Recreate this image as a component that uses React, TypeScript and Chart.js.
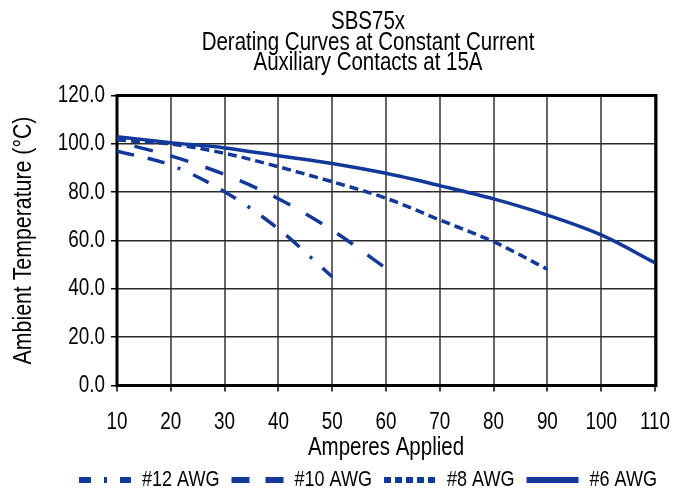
import React, { useEffect, useRef } from 'react';
import { Chart, registerables } from 'chart.js';

Chart.register(...registerables);

// ---- data ----
const amps12 = [10, 20, 30, 40, 50];
const temp12 = [97.0, 91.2, 80.2, 64.8, 45.0];
const amps10 = [10, 20, 30, 40, 50, 60];
const temp10 = [100.8, 95.0, 87.3, 77.3, 64.3, 48.5];
const amps8 = [10, 20, 30, 40, 50, 60, 70, 80, 90];
const temp8 = [101.6, 99.9, 96.1, 90.5, 84.3, 77.5, 68.5, 59.5, 48.1];
const amps6 = [10, 20, 30, 40, 50, 60, 70, 80, 90, 100, 110];
const temp6 = [102.9, 100.5, 98.3, 95.1, 91.9, 87.8, 82.7, 77.2, 70.5, 62.3, 50.8];

const seriesLabels = ['#12 AWG', '#10 AWG', '#8 AWG', '#6 AWG'];
const titleLines = ['SBS75x', 'Derating Curves at Constant Current', 'Auxiliary Contacts at 15A'];
const xTitle = 'Amperes Applied';
const yTitle = 'Ambient Temperature (\u00B0C)';

const FONT = "'Liberation Sans', Arial, sans-serif";
const SQUEEZE = 0.82; // condensed look of the original typeface
const BLUE = '#12399a';

const lineDashes = [[17.5, 14, 17.5, 14, 3, 14], [19, 18], [9, 5], []];
const lineDashOffsets = [0, 19, 0, 0];
const legendDashes = [[12, 13, 3, 13, 14, 30], [18, 16], [7, 4], []];

const toPoints = (xs: number[], ys: number[]) => xs.map((x, i) => ({ x, y: ys[i] }));

const plotBorder = {
  id: 'plotBorder',
  beforeDatasetsDraw(chart: any) {
    const { ctx, chartArea: a } = chart;
    ctx.save();
    ctx.strokeStyle = '#000';
    ctx.lineWidth = 3;
    ctx.strokeRect(a.left, a.top, a.right - a.left + 1, a.bottom - a.top);
    ctx.restore();
  },
};

function condenseText(ctx: any) {
  const origMeasure = ctx.measureText.bind(ctx);
  const origFill = ctx.fillText.bind(ctx);
  ctx.measureText = (t: string) => {
    const m = origMeasure(t);
    return {
      width: m.width * SQUEEZE,
      actualBoundingBoxAscent: m.actualBoundingBoxAscent,
      actualBoundingBoxDescent: m.actualBoundingBoxDescent,
      actualBoundingBoxLeft: m.actualBoundingBoxLeft * SQUEEZE,
      actualBoundingBoxRight: m.actualBoundingBoxRight * SQUEEZE,
      fontBoundingBoxAscent: m.fontBoundingBoxAscent,
      fontBoundingBoxDescent: m.fontBoundingBoxDescent,
    };
  };
  ctx.fillText = (t: string, x: number, y: number, mw?: number) => {
    const w = Math.max(origMeasure(t).width * SQUEEZE, 0.01);
    origFill(t, x, y, mw !== undefined && mw !== null ? Math.min(mw, w) : w);
  };
}

export default function App() {
  const ref = useRef<HTMLCanvasElement | null>(null);

  useEffect(() => {
    if (!ref.current) return;
    const ctx = ref.current.getContext('2d');
    condenseText(ctx);
    const data = [
      toPoints(amps12, temp12),
      toPoints(amps10, temp10),
      toPoints(amps8, temp8),
      toPoints(amps6, temp6),
    ];
    const chart = new Chart(ctx as any, {
      type: 'line',
      data: {
        datasets: data.map((d, i) => ({
          label: seriesLabels[i],
          data: d,
          borderColor: BLUE,
          backgroundColor: BLUE,
          borderWidth: 3.5,
          borderDash: lineDashes[i],
          borderDashOffset: lineDashOffsets[i],
          borderCapStyle: 'butt',
          pointRadius: 0,
          fill: false,
          cubicInterpolationMode: 'monotone',
          yAxisID: 'y',
        })),
      },
      options: {
        animation: false,
        responsive: false,
        devicePixelRatio: 1,
        layout: { padding: { left: 49, right: 0, top: 0, bottom: -10 } },
        scales: {
          x: {
            type: 'linear',
            min: 10,
            max: 110,
            ticks: { stepSize: 10, color: '#000', font: { family: FONT, size: 23 }, padding: 17, maxRotation: 0, autoSkip: false },
            grid: { color: '#666', lineWidth: 2, tickLength: 6, tickColor: '#000', tickWidth: 1.5 },
            border: { display: false },
            title: { display: true, text: xTitle, color: '#000', font: { family: FONT, size: 25, lineHeight: 0.72 }, padding: { top: 0, bottom: 0 } },
            afterFit: (s: any) => { s.height = 71.5; },
          },
          y: {
            position: 'left',
            min: 0,
            max: 120,
            ticks: { stepSize: 20, color: '#000', font: { family: FONT, size: 23 }, padding: 6, callback: (v: any) => Number(v).toFixed(1) },
            grid: { color: '#2a2a2a', lineWidth: 1.5, tickLength: 6, tickColor: '#000', tickWidth: 1.5 },
            border: { display: false },
            title: { display: true, text: yTitle, color: '#000', font: { family: FONT, size: 26 }, padding: { top: -41, bottom: 0 } },
            afterFit: (s: any) => { s.width = 68; },
          },
          yRight: {
            position: 'right',
            display: true,
            ticks: { display: false },
            grid: { display: false, drawTicks: false },
            border: { display: false },
            afterFit: (s: any) => { s.width = 30; },
          },
        },
        plugins: {
          title: {
            display: true,
            text: titleLines,
            color: '#000',
            font: { family: FONT, size: 25, weight: 'normal', lineHeight: '20.5px' },
            padding: { top: 12, bottom: 22 },
          },
          legend: {
            position: 'bottom',
            labels: {
              usePointStyle: true,
              pointStyleWidth: 52,
              padding: 12,
              color: '#000',
              font: { family: FONT, size: 22 },
              generateLabels: (c: any) =>
                c.data.datasets.map((ds: any, i: number) => ({
                  text: ds.label,
                  fillStyle: BLUE,
                  strokeStyle: BLUE,
                  lineWidth: 6,
                  lineDash: legendDashes[i],
                  lineDashOffset: 0,
                  lineCap: 'butt',
                  pointStyle: 'line',
                  hidden: false,
                  datasetIndex: i,
                  fontColor: '#000',
                })),
            },
          },
          tooltip: { enabled: false },
        },
      },
      plugins: [plotBorder],
    } as any);
    return () => chart.destroy();
  }, []);

  return (
    <div style={{ position: 'absolute', left: 0, top: 0, width: 687, height: 491 }}>
      <canvas ref={ref} width={687} height={491} />
    </div>
  );
}
